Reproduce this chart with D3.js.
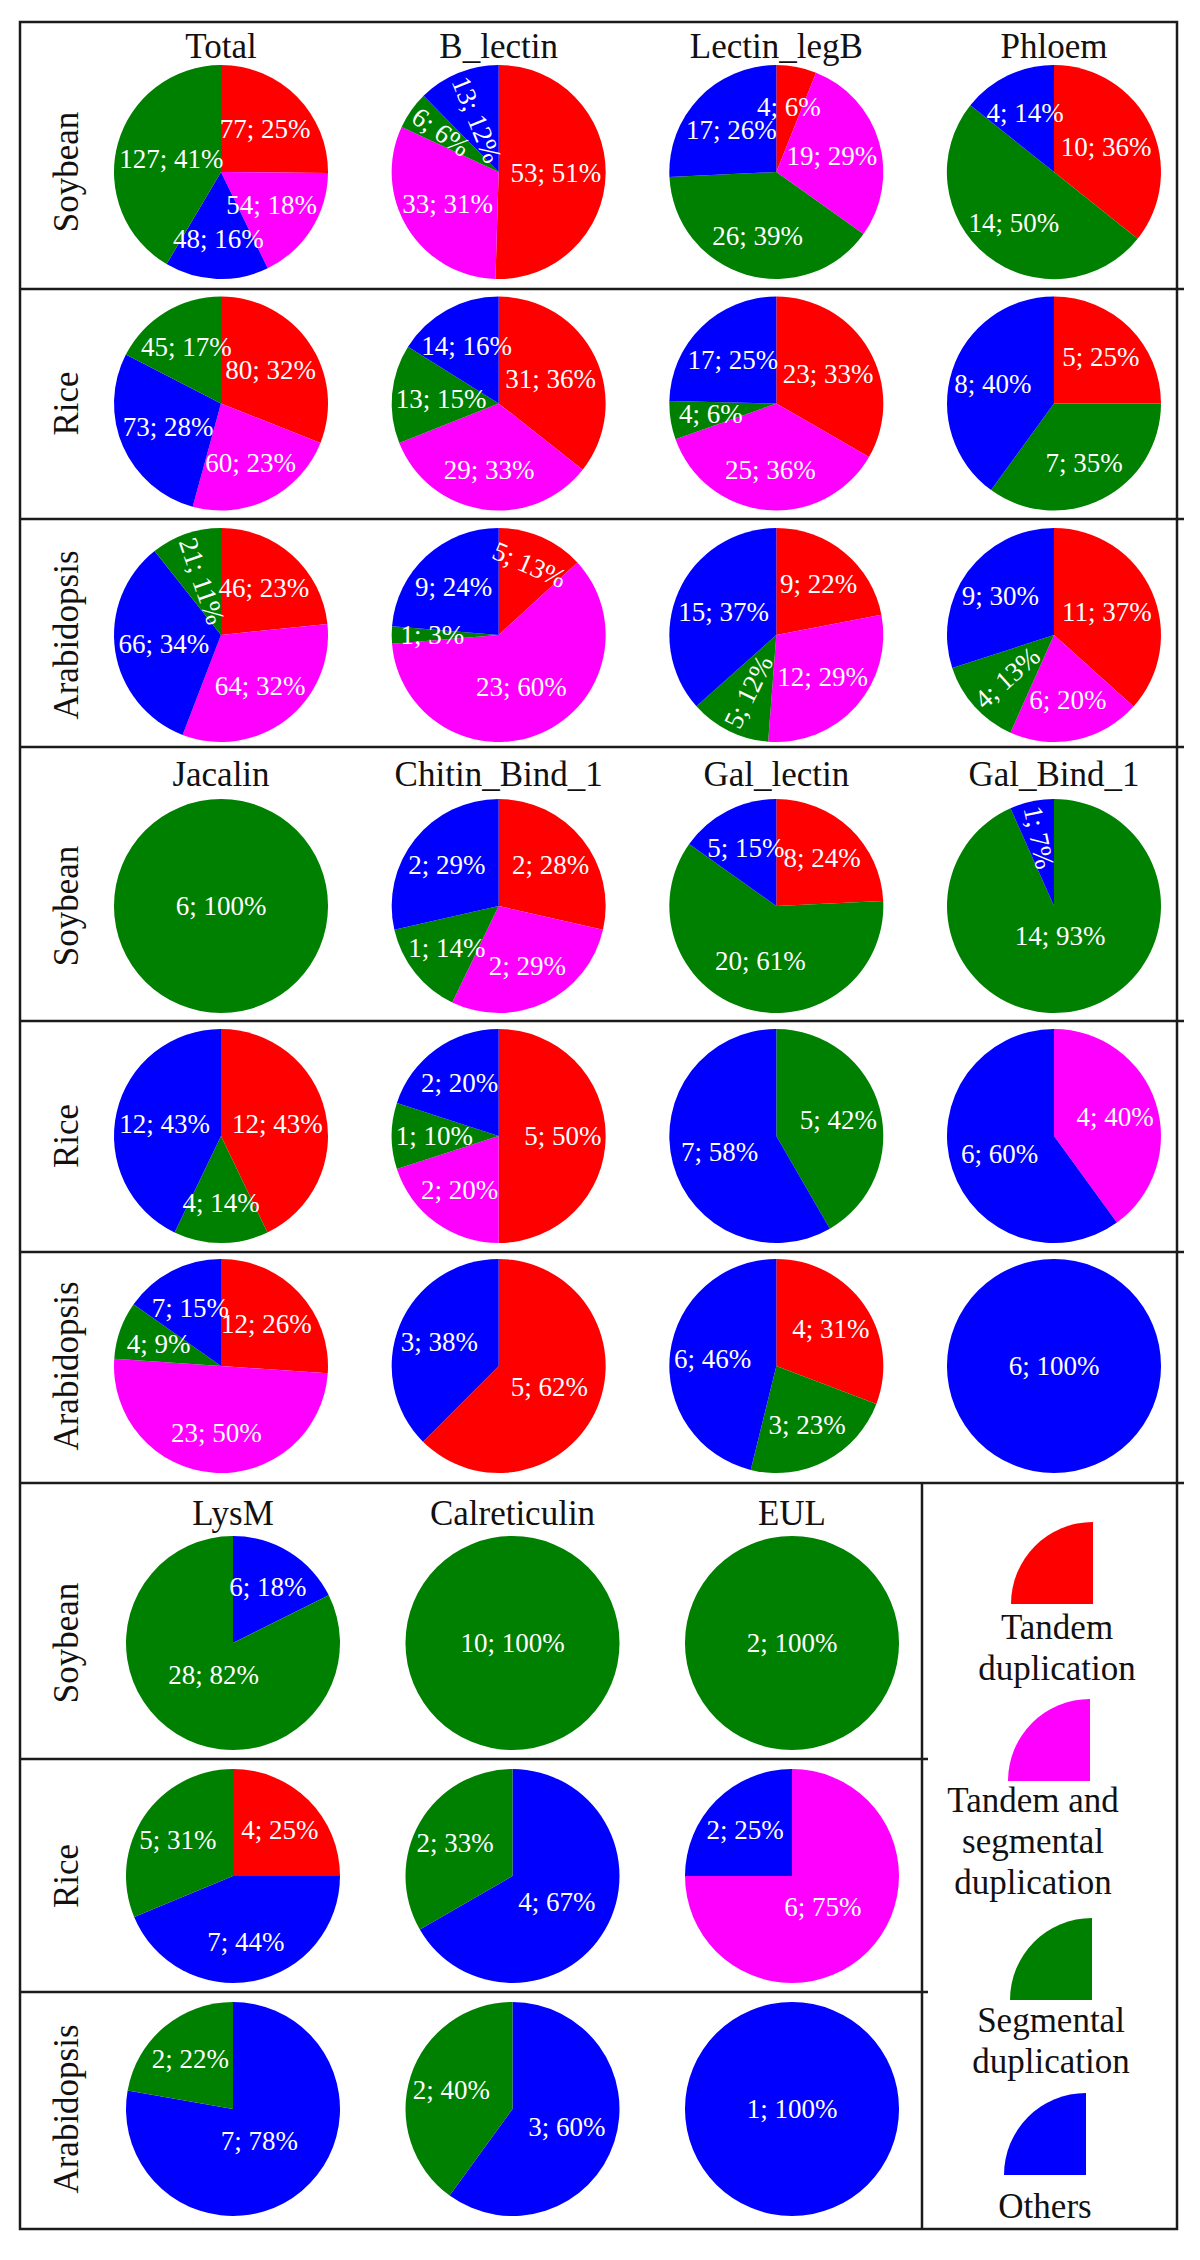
<!DOCTYPE html>
<html><head><meta charset="utf-8">
<script src="https://cdn.jsdelivr.net/npm/d3@7"></script>
<style>body{margin:0;background:#fff}svg{display:block}
svg text{font-family:"Liberation Serif","Times New Roman","DejaVu Serif","Noto Serif",serif;}</style>
</head><body><svg id="c" width="1200" height="2260"></svg>
<script>
// ---------- DATA ----------
const categories = ["Tandem duplication", "Tandem and segmental duplication", "Segmental duplication", "Others"];
const species = ["Soybean", "Rice", "Arabidopsis"];
const familiesA = ["Total", "B_lectin", "Lectin_legB", "Phloem"];
const familiesB = ["Jacalin", "Chitin_Bind_1", "Gal_lectin", "Gal_Bind_1"];
const familiesC = ["LysM", "Calreticulin", "EUL"];

// counts per family, in category order [Tandem, Tandem+segmental, Segmental, Others]
const soybeanA = [[77, 54, 127, 48], [53, 33, 6, 13], [4, 19, 26, 17], [10, 0, 14, 4]];
const soybeanApct = [[25, 18, 41, 16], [51, 31, 6, 12], [6, 29, 39, 26], [36, 0, 50, 14]];
const riceA = [[80, 60, 45, 73], [31, 29, 13, 14], [23, 25, 4, 17], [5, 0, 7, 8]];
const riceApct = [[32, 23, 17, 28], [36, 33, 15, 16], [33, 36, 6, 25], [25, 0, 35, 40]];
const arabidopsisA = [[46, 64, 21, 66], [5, 23, 1, 9], [9, 12, 5, 15], [11, 6, 4, 9]];
const arabidopsisApct = [[23, 32, 11, 34], [13, 60, 3, 24], [22, 29, 12, 37], [37, 20, 13, 30]];

const soybeanB = [[0, 0, 6, 0], [2, 2, 1, 2], [8, 0, 20, 5], [0, 0, 14, 1]];
const soybeanBpct = [[0, 0, 100, 0], [28, 29, 14, 29], [24, 0, 61, 15], [0, 0, 93, 7]];
const riceB = [[12, 0, 4, 12], [5, 2, 1, 2], [0, 0, 5, 7], [0, 4, 0, 6]];
const riceBpct = [[43, 0, 14, 43], [50, 20, 10, 20], [0, 0, 42, 58], [0, 40, 0, 60]];
const arabidopsisB = [[12, 23, 4, 7], [5, 0, 0, 3], [4, 0, 3, 6], [0, 0, 0, 6]];
const arabidopsisBpct = [[26, 50, 9, 15], [62, 0, 0, 38], [31, 0, 23, 46], [0, 0, 0, 100]];

const soybeanC = [[0, 0, 28, 6], [0, 0, 10, 0], [0, 0, 2, 0]];
const soybeanCpct = [[0, 0, 82, 18], [0, 0, 100, 0], [0, 0, 100, 0]];
const riceC = [[4, 0, 5, 7], [0, 0, 2, 4], [0, 6, 0, 2]];
const riceCpct = [[25, 0, 31, 44], [0, 0, 33, 67], [0, 75, 0, 25]];
const arabidopsisC = [[0, 0, 2, 7], [0, 0, 2, 3], [0, 0, 0, 1]];
const arabidopsisCpct = [[0, 0, 22, 78], [0, 0, 40, 60], [0, 0, 0, 100]];

// drawing order of slices (clockwise from 12 o'clock)
const orderStd = [0, 1, 2, 3];
const orderAlt = [0, 1, 3, 2];
const altOrderFamilies = ["Total", "LysM", "Calreticulin", "EUL"];

// labels written along the slice instead of horizontally: [species, family, category index, mode]
const rotatedLabels = [
  ["Soybean", "B_lectin", 3, "radial"], ["Soybean", "B_lectin", 2, "radial"],
  ["Arabidopsis", "Total", 2, "radial"], ["Arabidopsis", "B_lectin", 0, "tangent"],
  ["Arabidopsis", "Lectin_legB", 2, "radial"], ["Arabidopsis", "Phloem", 2, "radial"],
  ["Soybean", "Gal_Bind_1", 3, "radial"]
];

// ---------- STYLE ----------
const colors = ["#ff0000", "#ff00ff", "#008000", "#0000ff"];
const R = 107;

const svg = d3.select("#c");
svg.append("rect").attr("width", 1200).attr("height", 2260).attr("fill", "#fff");

const groups = [
  {fams: familiesA, data: [soybeanA, riceA, arabidopsisA], pct: [soybeanApct, riceApct, arabidopsisApct],
   x: d3.scalePoint().domain(familiesA).range([221, 1054]), y: d3.scalePoint().domain(species).range([172, 635]), titleY: 58},
  {fams: familiesB, data: [soybeanB, riceB, arabidopsisB], pct: [soybeanBpct, riceBpct, arabidopsisBpct],
   x: d3.scalePoint().domain(familiesB).range([221, 1054]), y: d3.scalePoint().domain(species).range([906, 1366]), titleY: 786},
  {fams: familiesC, data: [soybeanC, riceC, arabidopsisC], pct: [soybeanCpct, riceCpct, arabidopsisCpct],
   x: d3.scalePoint().domain(familiesC).range([233, 792]), y: d3.scalePoint().domain(species).range([1643, 2109]), titleY: 1525}
];

const pie = d3.pie().sort(null).value(d => d.count);
const arcGen = d3.arc().innerRadius(0).outerRadius(R);

function norm(a) { while (a > 90) a -= 180; while (a <= -90) a += 180; return a; }

groups.forEach(g => {
  g.fams.forEach(f => {
    svg.append("text").attr("x", g.x(f)).attr("y", g.titleY).attr("text-anchor", "middle")
      .attr("font-size", 35).attr("fill", "#111").text(f);
  });
  species.forEach((sp, si) => {
    const cy = g.y(sp);
    svg.append("text").attr("transform", `translate(78,${cy}) rotate(-90)`).attr("text-anchor", "middle")
      .attr("font-size", 35).attr("fill", "#111").text(sp);
    g.fams.forEach((f, fi) => {
      const cx = g.x(f);
      const counts = g.data[si][fi], pcts = g.pct[si][fi];
      const order = altOrderFamilies.includes(f) ? orderAlt : orderStd;
      const items = order.map(i => ({cat: i, count: counts[i], pct: pcts[i]})).filter(d => d.count > 0);
      const total = d3.sum(items, d => d.count);
      const arcs = pie(items);
      const pg = svg.append("g").attr("transform", `translate(${cx},${cy})`);
      pg.selectAll("path").data(arcs).join("path").attr("d", arcGen).attr("fill", d => colors[d.data.cat]);
      arcs.forEach(a => {
        const txt = `${a.data.count}; ${a.data.pct}%`;
        const mid = (a.startAngle + a.endAngle) / 2;
        const rot = rotatedLabels.find(r => r[0] === sp && r[1] === f && r[2] === a.data.cat);
        const t = pg.append("text").attr("text-anchor", "middle").attr("dy", "0.35em")
          .attr("font-size", 27).attr("fill", "#fff").text(txt);
        if (items.length === 1) { t.attr("x", 0).attr("y", 0); return; }
        const w = t.node().getComputedTextLength();
        if (rot) {
          let fr, ang;
          if (rot[3] === "radial") {
            fr = Math.min(0.66 * R, R - 5 - w / 2);
            ang = Math.atan2(Math.cos(mid), -Math.sin(mid)) * 180 / Math.PI;
          } else {
            fr = 0.72 * R;
            ang = mid * 180 / Math.PI;
          }
          const px = fr * Math.sin(mid), py = -fr * Math.cos(mid);
          t.attr("transform", `translate(${px},${py}) rotate(${norm(ang)})`);
          return;
        }
        const frac = a.data.count / total;
        let f0 = frac <= 0.5 ? 0.62 : Math.max(0.28, 0.62 - (frac - 0.5) * 0.85);
        const h = 18;
        let px, py;
        for (let k = 0; k < 40; k++) {
          px = f0 * R * Math.sin(mid); py = -f0 * R * Math.cos(mid);
          const dx = Math.abs(px) + w / 2, dy = Math.abs(py) + h / 2;
          if (Math.hypot(dx, dy) <= R - 2 || f0 <= 0.05) break;
          f0 -= 0.02;
        }
        t.attr("x", px).attr("y", py);
      });
    });
  });
});

// ---------- FRAME LINES ----------
const lineColor = "#1b1b1b", lw = 2.5;
svg.append("rect").attr("x", 20).attr("y", 22).attr("width", 1157).attr("height", 2207)
  .attr("fill", "none").attr("stroke", lineColor).attr("stroke-width", lw);
[289, 519, 747, 1021, 1252, 1483].forEach(y => {
  svg.append("line").attr("x1", 20).attr("x2", 1184).attr("y1", y).attr("y2", y)
    .attr("stroke", lineColor).attr("stroke-width", lw);
});
[1759, 1992].forEach(y => {
  svg.append("line").attr("x1", 20).attr("x2", 928).attr("y1", y).attr("y2", y)
    .attr("stroke", lineColor).attr("stroke-width", lw);
});
svg.append("line").attr("x1", 922).attr("x2", 922).attr("y1", 1483).attr("y2", 2229)
  .attr("stroke", lineColor).attr("stroke-width", lw);

// ---------- LEGEND ----------
const legendArc = d3.arc().innerRadius(0).outerRadius(82).startAngle(-Math.PI / 2).endAngle(0);
const legendItems = [
  {corner: [1093, 1604], lines: ["Tandem", "duplication"], tx: 1057, ty: 1639},
  {corner: [1090, 1781], lines: ["Tandem and", "segmental", "duplication"], tx: 1033, ty: 1812},
  {corner: [1092, 2000], lines: ["Segmental", "duplication"], tx: 1051, ty: 2032},
  {corner: [1086, 2175], lines: ["Others"], tx: 1045, ty: 2218}
];
legendItems.forEach((it, i) => {
  svg.append("path").attr("d", legendArc()).attr("fill", colors[i])
    .attr("transform", `translate(${it.corner[0]},${it.corner[1]})`);
  const t = svg.append("text").attr("text-anchor", "middle")
    .attr("font-size", 35).attr("fill", "#111");
  it.lines.forEach((ln, k) => {
    t.append("tspan").attr("x", it.tx).attr("y", it.ty + k * 41).text(ln);
  });
});
</script>
</body></html>
